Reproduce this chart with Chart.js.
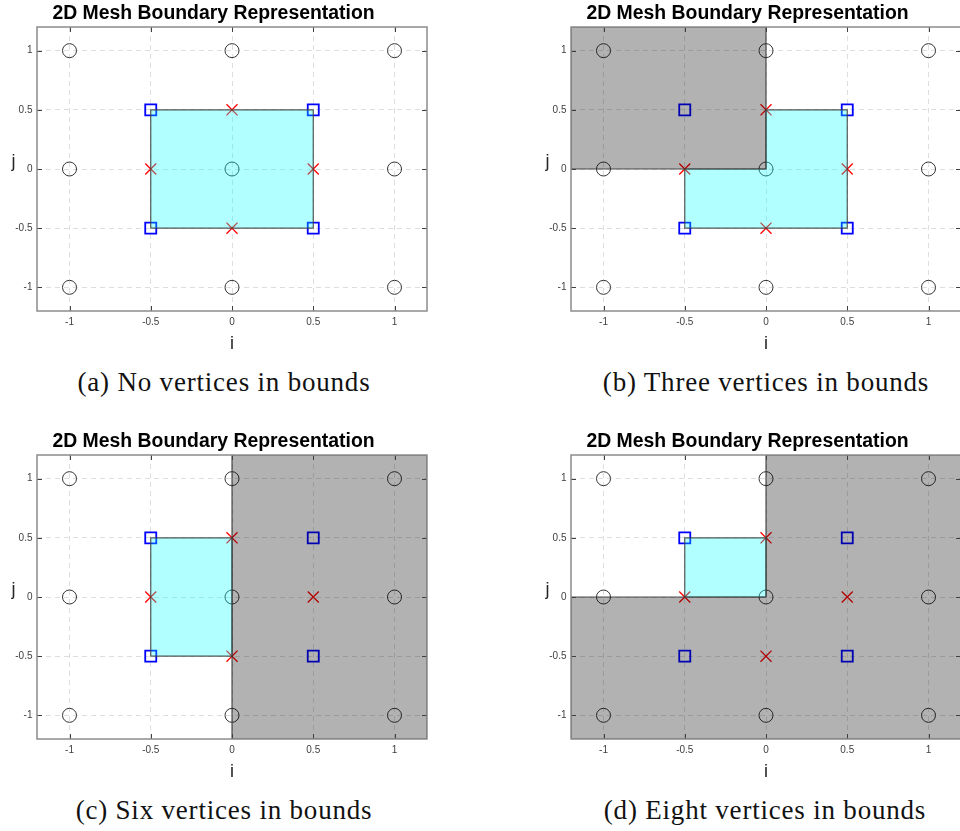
<!DOCTYPE html>
<html>
<head>
<meta charset="utf-8">
<title>2D Mesh Boundary Representation</title>
<script src="https://cdn.jsdelivr.net/npm/chart.js@4/dist/chart.umd.min.js"></script>
<style>
  html, body { margin: 0; padding: 0; background: #fff; width: 960px; height: 831px; overflow: hidden; }
  .panel { position: absolute; width: 464px; height: 360px; }
  .panel canvas { display: block; }
  .caption {
    position: absolute; width: 464px; text-align: center; white-space: nowrap;
    font-family: "Liberation Serif", "Times New Roman", serif; font-size: 27px; line-height: 27px;
    letter-spacing: 0.8px; color: #111;
  }
</style>
</head>
<body>
<div class="panel" style="left:0px;top:0px"><canvas id="panelA" width="464" height="360"></canvas></div>
<div class="panel" style="left:534px;top:0px"><canvas id="panelB" width="464" height="360"></canvas></div>
<div class="panel" style="left:0px;top:428px"><canvas id="panelC" width="464" height="360"></canvas></div>
<div class="panel" style="left:534px;top:428px"><canvas id="panelD" width="464" height="360"></canvas></div>

<div class="caption" id="capA" style="left:-8px;top:369px"></div>
<div class="caption" id="capB" style="left:534px;top:369px"></div>
<div class="caption" id="capC" style="left:-8px;top:797px"></div>
<div class="caption" id="capD" style="left:533px;top:797px"></div>

<script>
// ---- mesh nodes (cell centres, faces, corners) ----
const circleI = [-1, 0, 1, -1, 0, 1, -1, 0, 1];
const circleJ = [1, 1, 1, 0, 0, 0, -1, -1, -1];
const squareI = [-0.5, 0.5, -0.5, 0.5];
const squareJ = [0.5, 0.5, -0.5, -0.5];
const crossI = [0, -0.5, 0.5, 0];
const crossJ = [0.5, 0, 0, -0.5];

// ---- axes ----
const axisMin = -1.2;
const axisMax = 1.2;
const tickValues = [-1, -0.5, 0, 0.5, 1];
const tickLabels = ['-1', '-0.5', '0', '0.5', '1'];
const plotTitle = '2D Mesh Boundary Representation';
const xLabel = 'i';
const yLabel = 'j';

// ---- cell of interest (cyan) for each case ----
const cyanI_A = [-0.5, -0.5, 0.5, 0.5, -0.5];
const cyanJ_A = [-0.5, 0.5, 0.5, -0.5, -0.5];
const cyanI_B = [0, 0.5, 0.5, -0.5, -0.5, 0, 0];
const cyanJ_B = [0.5, 0.5, -0.5, -0.5, 0, 0, 0.5];
const cyanI_C = [-0.5, -0.5, 0, 0, -0.5];
const cyanJ_C = [-0.5, 0.5, 0.5, -0.5, -0.5];
const cyanI_D = [-0.5, -0.5, 0, 0, -0.5];
const cyanJ_D = [0, 0.5, 0.5, 0, 0];

// ---- in-bounds region (gray) for each case ----
const grayI_A = [];
const grayJ_A = [];
const grayI_B = [-1.2, -1.2, 0, 0, -1.2];
const grayJ_B = [0, 1.2, 1.2, 0, 0];
const grayI_C = [0, 0, 1.2, 1.2, 0];
const grayJ_C = [-1.2, 1.2, 1.2, -1.2, -1.2];
const grayI_D = [0, 1.2, 1.2, -1.2, -1.2, 0, 0];
const grayJ_D = [1.2, 1.2, -1.2, -1.2, 0, 0, 1.2];

const captions = [
  '(a) No vertices in bounds',
  '(b) Three vertices in bounds',
  '(c) Six vertices in bounds',
  '(d) Eight vertices in bounds'
];

const toPoints = (xs, ys) => xs.map((v, k) => ({ x: v, y: ys[k] }));

// box outline, inward tick marks and the upright j label
const framePlugin = {
  id: 'frame',
  afterDatasetsDraw(chart) {
    const { ctx, chartArea, scales } = chart;
    const { left, right, top, bottom } = chartArea;
    ctx.save();
    ctx.strokeStyle = '#404040';
    ctx.lineWidth = 1;
    ctx.beginPath();
    tickValues.forEach(v => {
      const px = Math.round(scales.x.getPixelForValue(v)) + 0.5;
      const py = Math.round(scales.y.getPixelForValue(v)) + 0.5;
      ctx.moveTo(px, bottom); ctx.lineTo(px, bottom - 5);
      ctx.moveTo(px, top); ctx.lineTo(px, top + 5);
      ctx.moveTo(left, py); ctx.lineTo(left + 5, py);
      ctx.moveTo(right, py); ctx.lineTo(right - 5, py);
    });
    ctx.stroke();
    ctx.strokeStyle = '#8c8c8c';
    ctx.lineWidth = 1.5;
    ctx.strokeRect(left, top, right - left, bottom - top);
    ctx.font = '18px "Liberation Sans", Arial, sans-serif';
    ctx.fillStyle = '#262626';
    ctx.textAlign = 'center';
    ctx.textBaseline = 'middle';
    ctx.fillText(yLabel, left - 23.5, (top + bottom) / 2 - 7);
    ctx.restore();
  }
};

const axisFont = { family: '"Liberation Sans", Arial, sans-serif', size: 10 };

function makeScale(isX) {
  return {
    type: 'linear',
    min: axisMin,
    max: axisMax,
    afterBuildTicks: s => { s.ticks = tickValues.map(v => ({ value: v })); },
    afterFit: s => { if (isX) { s.height = 49; } else { s.width = 37; } },
    ticks: {
      callback: v => tickLabels[tickValues.indexOf(v)],
      font: axisFont,
      color: '#404040',
      padding: isX ? 5 : 4.5,
      maxRotation: 0,
      autoSkip: false
    },
    grid: { color: '#dedede', lineWidth: 1, drawTicks: false, borderDash: [5, 4] },
    border: { display: false, dash: [5, 4] },
    title: isX ? {
      display: true, text: xLabel, color: '#262626',
      font: { family: '"Liberation Sans", Arial, sans-serif', size: 18, lineHeight: 1.2 },
      padding: { top: 0, bottom: 5 }
    } : { display: false }
  };
}

function makePanel(canvasId, grayI, grayJ, cyanI, cyanJ) {
  const datasets = [
    {
      label: 'cell',
      data: toPoints(cyanI, cyanJ),
      showLine: true, fill: 'shape', tension: 0,
      backgroundColor: 'rgba(0,255,255,0.3)',
      borderColor: 'rgba(60,60,60,0.85)', borderWidth: 1.2,
      pointRadius: 0, pointHoverRadius: 0, order: 0
    },
    {
      label: 'in bounds',
      data: toPoints(grayI, grayJ),
      showLine: true, fill: 'shape', tension: 0,
      backgroundColor: 'rgba(0,0,0,0.3)',
      borderColor: 'rgba(50,50,50,0.85)', borderWidth: 1.2,
      pointRadius: 0, pointHoverRadius: 0, order: 1
    },
    {
      label: 'centres',
      data: toPoints(circleI, circleJ),
      showLine: false, pointStyle: 'circle', pointRadius: 7, pointHoverRadius: 7,
      borderColor: '#333333', borderWidth: 1, backgroundColor: 'rgba(0,0,0,0)', order: 2
    },
    {
      label: 'corners',
      data: toPoints(squareI, squareJ),
      showLine: false, pointStyle: 'rect', pointRadius: 7.8, pointHoverRadius: 7.8,
      borderColor: '#0000ff', borderWidth: 1.8, backgroundColor: 'rgba(0,0,0,0)', order: 3
    },
    {
      label: 'faces',
      data: toPoints(crossI, crossJ),
      showLine: false, pointStyle: 'crossRot', pointRadius: 7.8, pointHoverRadius: 7.8,
      borderColor: '#ff0000', borderWidth: 1.3, backgroundColor: 'rgba(0,0,0,0)', order: 4
    }
  ];
  return new Chart(document.getElementById(canvasId), {
    type: 'line',
    data: { datasets },
    options: {
      responsive: false,
      animation: false,
      devicePixelRatio: 1,
      events: [],
      layout: { padding: { left: 0, right: 37, top: 0, bottom: 0 } },
      plugins: {
        legend: { display: false },
        tooltip: { enabled: false },
        title: {
          display: true, text: plotTitle, color: '#000',
          font: { family: '"Liberation Sans", Arial, sans-serif', size: 19.4, weight: 'bold', lineHeight: 1 },
          padding: { top: 3.5, bottom: 4.1 }
        }
      },
      scales: { x: makeScale(true), y: makeScale(false) }
    },
    plugins: [framePlugin]
  });
}

makePanel('panelA', grayI_A, grayJ_A, cyanI_A, cyanJ_A);
makePanel('panelB', grayI_B, grayJ_B, cyanI_B, cyanJ_B);
makePanel('panelC', grayI_C, grayJ_C, cyanI_C, cyanJ_C);
makePanel('panelD', grayI_D, grayJ_D, cyanI_D, cyanJ_D);

['capA', 'capB', 'capC', 'capD'].forEach((id, k) => {
  document.getElementById(id).textContent = captions[k];
});
</script>
</body>
</html>
